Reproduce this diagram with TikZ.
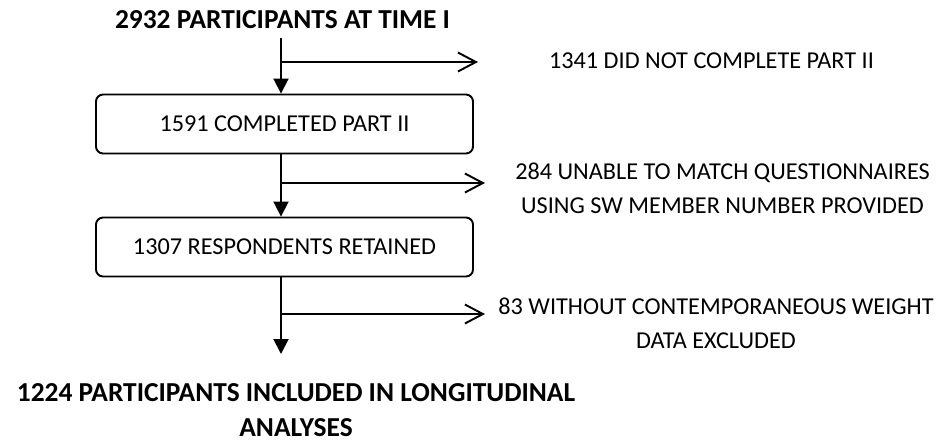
\documentclass[tikz,border=0pt]{standalone}
\usepackage{fontspec}
\setmainfont{Carlito}
\usetikzlibrary{arrows.meta}

\begin{document}
\begin{tikzpicture}[line width=1.1pt,
  box/.style={draw,rounded corners=4pt,minimum width=7.54cm,minimum height=1.18cm,
    inner sep=0pt,font=\fontsize{13.8}{19.3}\selectfont},
  txt/.style={align=center,inner sep=0pt,font=\fontsize{13.8}{19.3}\selectfont},
  head/.style={align=center,inner sep=0pt,font=\fontsize{15.6}{19.6}\selectfont\bfseries},
  down/.style={-{Triangle[length=3mm,width=3mm]}},
  side/.style={-{Straight Barb[length=3.6mm,width=3.8mm]}}]
  \useasboundingbox (0,0) rectangle (18.82,-8.82);
  % main column
  \node[head,outer sep=5pt] (title) at (5.65,-0.40) {2932 PARTICIPANTS AT TIME I};
  \node[box] (done) at (5.69,-2.48) {1591 COMPLETED PART II};
  \node[box] (kept) at (5.69,-4.94) {1307 RESPONDENTS RETAINED};
  \node[head] (final) at (5.92,-8.20) {1224 PARTICIPANTS INCLUDED IN LONGITUDINAL\\ ANALYSES};
  % exclusions
  \node[txt] (drop1) at (14.23,-1.22) {1341 DID NOT COMPLETE PART II};
  \node[txt] (drop2) at (14.45,-3.77) {284 UNABLE TO MATCH QUESTIONNAIRES\\ USING SW MEMBER NUMBER PROVIDED};
  \node[txt] (drop3) at (14.32,-6.46) {83 WITHOUT CONTEMPORANEOUS WEIGHT\\ DATA EXCLUDED};
  % branch points
  \coordinate (s1) at (5.62,-1.24);
  \coordinate (s2) at (5.62,-3.66);
  \coordinate (s3) at (5.62,-6.28);
  \coordinate (e1) at (9.56,-1.24);
  \coordinate (e2) at (9.70,-3.66);
  \coordinate (e3) at (9.70,-6.28);
  \coordinate (tip) at (5.62,-7.08);
  % arrows
  \draw[down] (title.south -| s1) -- (done.north -| s1);
  \draw[down] (done.south -| s2) -- (kept.north -| s2);
  \draw[down] (kept.south -| s3) -- (tip);
  \draw[side] (s1) -- (e1);
  \draw[side] (s2) -- (e2);
  \draw[side] (s3) -- (e3);
\end{tikzpicture}
\end{document}
